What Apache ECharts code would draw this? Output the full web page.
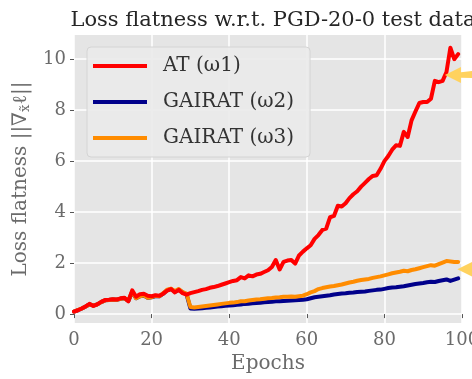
<!DOCTYPE html>
<html>
<head>
<meta charset="utf-8">
<script src="https://cdn.jsdelivr.net/npm/echarts@6/dist/echarts.min.js"></script>
<style>
  html, body { margin: 0; padding: 0; background: #ffffff; }
  #chart { width: 472px; height: 379px; }
</style>
</head>
<body>
<div id="chart"></div>
<script>
// Loss flatness per epoch (epochs 0..99)
const seriesNames = ['AT (\u03c91)', 'GAIRAT (\u03c92)', 'GAIRAT (\u03c93)'];

const atFlatness = [
  0.10, 0.15, 0.22, 0.30, 0.40, 0.32, 0.38, 0.48, 0.55, 0.56,
  0.58, 0.57, 0.62, 0.64, 0.50, 0.93, 0.68, 0.78, 0.80, 0.72,
  0.70, 0.74, 0.72, 0.80, 0.92, 0.98, 0.85, 0.95, 0.82, 0.76,
  0.82, 0.86, 0.90, 0.95, 0.98, 1.03, 1.06, 1.10, 1.15, 1.20,
  1.25, 1.30, 1.33, 1.45, 1.40, 1.52, 1.48, 1.55, 1.58, 1.65,
  1.72, 1.85, 2.12, 1.75, 2.05, 2.10, 2.12, 1.98, 2.30, 2.45,
  2.58, 2.70, 2.95, 3.10, 3.30, 3.35, 3.80, 3.85, 4.25, 4.22,
  4.35, 4.55, 4.70, 4.82, 5.00, 5.15, 5.30, 5.42, 5.45, 5.70,
  6.00, 6.20, 6.45, 6.62, 6.60, 7.15, 6.95, 7.60, 7.95, 8.28,
  8.32, 8.32, 8.45, 9.15, 9.10, 9.15, 9.50, 10.45, 10.00, 10.20
];

const gairatW2Flatness = [
  0.10, 0.15, 0.22, 0.30, 0.38, 0.33, 0.38, 0.47, 0.54, 0.55,
  0.57, 0.56, 0.60, 0.62, 0.52, 0.86, 0.62, 0.70, 0.73, 0.64,
  0.66, 0.71, 0.70, 0.80, 0.94, 0.98, 0.88, 0.96, 0.85, 0.78,
  0.22, 0.21, 0.22, 0.23, 0.25, 0.26, 0.28, 0.30, 0.31, 0.33,
  0.34, 0.35, 0.37, 0.38, 0.40, 0.41, 0.42, 0.43, 0.44, 0.46,
  0.47, 0.48, 0.50, 0.50, 0.51, 0.52, 0.53, 0.54, 0.55, 0.56,
  0.58, 0.62, 0.66, 0.68, 0.70, 0.72, 0.74, 0.77, 0.79, 0.81,
  0.82, 0.84, 0.85, 0.87, 0.88, 0.89, 0.91, 0.93, 0.95, 0.96,
  0.99, 1.02, 1.04, 1.05, 1.07, 1.09, 1.12, 1.15, 1.18, 1.20,
  1.22, 1.25, 1.27, 1.26, 1.30, 1.33, 1.36, 1.30, 1.35, 1.40
];

const gairatW3Flatness = [
  0.10, 0.16, 0.22, 0.30, 0.38, 0.33, 0.38, 0.47, 0.54, 0.55,
  0.57, 0.56, 0.60, 0.62, 0.52, 0.88, 0.62, 0.70, 0.74, 0.64,
  0.66, 0.72, 0.70, 0.82, 0.96, 1.00, 0.90, 0.98, 0.86, 0.80,
  0.28, 0.26, 0.28, 0.30, 0.32, 0.34, 0.36, 0.38, 0.40, 0.42,
  0.44, 0.45, 0.47, 0.50, 0.50, 0.53, 0.55, 0.57, 0.58, 0.60,
  0.62, 0.63, 0.65, 0.66, 0.68, 0.68, 0.69, 0.68, 0.70, 0.72,
  0.78, 0.85, 0.90, 0.98, 1.02, 1.05, 1.08, 1.10, 1.13, 1.16,
  1.20, 1.24, 1.27, 1.31, 1.34, 1.36, 1.38, 1.42, 1.45, 1.48,
  1.52, 1.56, 1.60, 1.63, 1.66, 1.70, 1.68, 1.73, 1.76, 1.80,
  1.84, 1.88, 1.92, 1.90, 1.96, 2.02, 2.08, 2.06, 2.04, 2.04
];

const xTicks = [0, 20, 40, 60, 80, 100];
const yTicks = [0, 2, 4, 6, 8, 10];

// Callout arrows pointing at the curves (data coordinates of the tip)
const arrowTips = [[95.6, 9.38], [98.8, 1.76]];

const SERIF = '"DejaVu Serif", "Liberation Serif", serif';
const COLORS = { at: '#ff0000', w2: '#00008b', w3: '#ff8c00', arrow: '#ffd25e' };

const toPairs = (arr) => arr.map((v, i) => [i, v]);

// left-pointing arrow, tip at the left middle
const ARROW_PATH = 'path://M0,8 L16,0.5 L16,5.5 L34,3.5 L34,11 L16,10.5 L16,15.5 Z';

function lineSeries(name, data, color, z, marks) {
  const s = {
    name: name,
    type: 'line',
    data: toPairs(data),
    showSymbol: false,
    symbol: 'none',
    z: z,
    lineStyle: { color: color, width: 4, join: 'round', cap: 'round' },
    itemStyle: { color: color },
    animation: false
  };
  if (marks) s.markPoint = marks;
  return s;
}

const arrowMarks = {
  silent: true,
  animation: false,
  symbol: ARROW_PATH,
  symbolSize: [34, 16],
  symbolOffset: [17, 0],
  itemStyle: { color: COLORS.arrow },
  label: { show: false },
  data: arrowTips.map((c) => ({ coord: c }))
};

const chart = echarts.init(document.getElementById('chart'), null, { renderer: 'canvas' });

chart.setOption({
  backgroundColor: '#ffffff',
  animation: false,
  title: {
    text: 'Loss flatness w.r.t. PGD-20-0 test data',
    left: 268,
    textAlign: 'center',
    top: 5,
    textStyle: { fontFamily: SERIF, fontSize: 21, fontWeight: 'normal', color: '#262626' }
  },
  grid: {
    left: 74, right: 10, top: 35, bottom: 56,
    show: true, backgroundColor: '#e5e5e5', borderWidth: 0,
    containLabel: false,
    outerBoundsMode: 'none'
  },
  legend: {
    data: seriesNames,
    orient: 'vertical',
    left: 87, top: 47,
    padding: [8, 16, 8, 6],
    itemGap: 14,
    itemWidth: 54, itemHeight: 4,
    icon: 'rect',
    backgroundColor: 'rgba(234,234,234,0.9)',
    borderColor: '#d4d4d4',
    borderWidth: 1,
    borderRadius: 4,
    textStyle: { fontFamily: SERIF, fontSize: 20, color: '#333333', lineHeight: 22, padding: [0, 0, 0, 11] }
  },
  xAxis: {
    type: 'value',
    min: 0, max: 100, interval: 20,
    name: 'Epochs',
    nameLocation: 'middle',
    nameGap: 29,
    nameTextStyle: { fontFamily: SERIF, fontSize: 20, color: '#6b6b6b' },
    axisLine: { show: false },
    axisTick: { show: true, length: 4, lineStyle: { color: '#555555', width: 1 } },
    axisLabel: { fontFamily: SERIF, fontSize: 18, color: '#6b6b6b', margin: 8 },
    splitLine: { show: true, lineStyle: { color: '#ffffff', width: 1.5 } }
  },
  yAxis: {
    type: 'value',
    min: -0.35, max: 10.95,
    name: '{t|Loss flatness ||\u2207}{s|x\u0303}{t|\u2113||}',
    nameLocation: 'middle',
    nameGap: 35,
    nameRotate: 90,
    nameTextStyle: {
      color: '#6b6b6b',
      rich: {
        t: { fontFamily: SERIF, fontSize: 20, color: '#6b6b6b' },
        s: { fontFamily: SERIF, fontSize: 13, color: '#6b6b6b', padding: [10, 0, 0, 0] }
      }
    },
    axisLine: { show: false },
    axisTick: { show: true, length: 4, customValues: yTicks, lineStyle: { color: '#555555', width: 1 } },
    axisLabel: { fontFamily: SERIF, fontSize: 18, color: '#6b6b6b', margin: 8, customValues: yTicks },
    splitLine: { show: true, lineStyle: { color: '#ffffff', width: 1.5 } }
  },
  series: [
    lineSeries(seriesNames[1], gairatW2Flatness, COLORS.w2, 2),
    lineSeries(seriesNames[2], gairatW3Flatness, COLORS.w3, 3),
    lineSeries(seriesNames[0], atFlatness, COLORS.at, 4, arrowMarks)
  ]
});
</script>
</body>
</html>
